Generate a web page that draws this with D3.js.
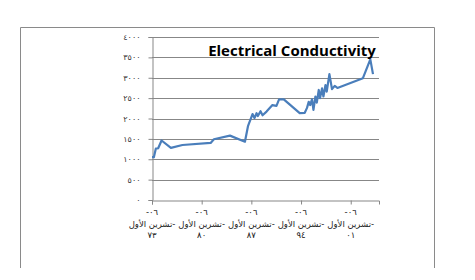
<!DOCTYPE html>
<html>
<head>
<meta charset="utf-8">
<script src="https://cdn.jsdelivr.net/npm/d3@7"></script>
<style>
  body { margin: 0; background: #fff; }
  svg { display: block; }
</style>
</head>
<body>
<svg width="475" height="280"></svg>
<script>
var mySVG = d3.select("svg");

// dates and conductivity readings
var dates = ["1973-10-06","1974-01-10","1974-04-20","1974-08-20","1975-02-10","1976-06-05","1978-01-20",
  "1982-01-10","1982-06-25","1984-10-01","1986-11-10","1987-04-20","1987-12-05","1988-03-15","1988-06-30",
  "1988-09-05","1989-01-20","1989-05-05","1989-11-25","1990-09-25","1991-04-20","1991-09-01","1992-05-01",
  "1994-07-30","1995-04-15","1995-08-10","1995-11-05","1996-01-20","1996-04-20","1996-07-05","1996-10-15",
  "1996-12-25","1997-04-05","1997-06-10","1997-09-20","1997-12-01","1998-03-15","1998-05-20","1998-10-05",
  "1999-02-15","1999-07-05","1999-11-20","2003-06-25","2004-07-10","2004-11-25"];
var values = [1050,1050,1260,1270,1460,1280,1350,
  1400,1490,1580,1430,1820,2110,2010,2130,
  2060,2180,2080,2170,2330,2310,2470,2470,
  2130,2140,2260,2410,2330,2470,2210,2540,
  2390,2700,2500,2740,2540,2820,2660,3090,
  2720,2800,2750,2990,3450,3090];

var yTicks = [0,500,1000,1500,2000,2500,3000,3500,4000];
var yTickLabels = ["٠","٥٠٠","١٠٠٠","١٥٠٠","٢٠٠٠","٢٥٠٠","٣٠٠٠","٣٥٠٠","٤٠٠٠"];
var xTicks = ["1973-10-06","1980-10-06","1987-10-06","1994-10-06","2001-10-06"];
var xTickLabels = [["-٠٦","تشرين الأول-","٧٣"],["-٠٦","تشرين الأول-","٨٠"],["-٠٦","تشرين الأول-","٨٧"],
  ["-٠٦","تشرين الأول-","٩٤"],["-٠٦","تشرين الأول-","٠١"]];
var title = "Electrical Conductivity";

var parse = d3.timeParse("%Y-%m-%d");
var data = dates.map(function(d,i){ return {date: parse(d), v: values[i]}; });

// outer chart frame (no bottom edge visible)
mySVG.append("path")
  .attr("d","M20.5,268 V27.5 H434.5 V268")
  .attr("fill","none").attr("stroke","#8a8a8a").attr("stroke-width",1);

var x = d3.scaleTime().domain([parse("1973-10-06"), parse("2005-09-30")]).range([152, 379]);
var y = d3.scaleLinear().domain([0,4000]).range([200, 37]);

// gridlines
mySVG.append("g").selectAll("line").data(yTicks.slice(1)).enter().append("line")
  .attr("x1",152).attr("x2",379)
  .attr("y1",function(d){return Math.round(y(d))+0.5;})
  .attr("y2",function(d){return Math.round(y(d))+0.5;})
  .attr("stroke","#878787").attr("stroke-width",1);

// y axis
var yAxis = d3.axisLeft(y).tickValues(yTicks).tickSize(4).tickPadding(8)
  .tickFormat(function(d,i){ return yTickLabels[i]; });
var gy = mySVG.append("g").attr("transform","translate(152.5,0)").call(yAxis);
gy.select(".domain").attr("stroke","#878787");
gy.selectAll(".tick line").attr("stroke","#878787");
gy.selectAll(".tick text").attr("fill","#333").style("font-family","DejaVu Sans").style("font-size","8px");

// x axis
var xAxis = d3.axisBottom(x).tickValues(xTicks.map(parse)).tickSize(4).tickFormat("");
var gx = mySVG.append("g").attr("transform","translate(0,200.5)").call(xAxis);
gx.select(".domain").attr("stroke","#878787");
gx.selectAll(".tick line").attr("stroke","#878787");

var lbl = mySVG.append("g").selectAll("text").data(xTicks).enter().append("text")
  .attr("x",function(d){return x(parse(d));})
  .attr("y",215)
  .attr("text-anchor","middle")
  .attr("fill","#222")
  .style("font-family","DejaVu Sans").style("font-size","8.5px");
lbl.each(function(d,i){
  var t = d3.select(this);
  xTickLabels[i].forEach(function(s,j){
    t.append("tspan").attr("x",x(parse(d))).attr("dy", j==0 ? 0 : 11.5).text(s);
  });
});

// series line
var line = d3.line().x(function(d){return x(d.date);}).y(function(d){return y(d.v);});
mySVG.append("path").datum(data)
  .attr("d",line)
  .attr("fill","none")
  .attr("stroke","#4a7ebb")
  .attr("stroke-width",2.2)
  .attr("stroke-linejoin","round");

// title
mySVG.append("text").attr("x",292).attr("y",56).attr("text-anchor","middle")
  .style("font-family","Open Sans").style("font-weight","bold").style("font-size","15px")
  .attr("fill","#000")
  .text(title);
</script>
</body>
</html>
